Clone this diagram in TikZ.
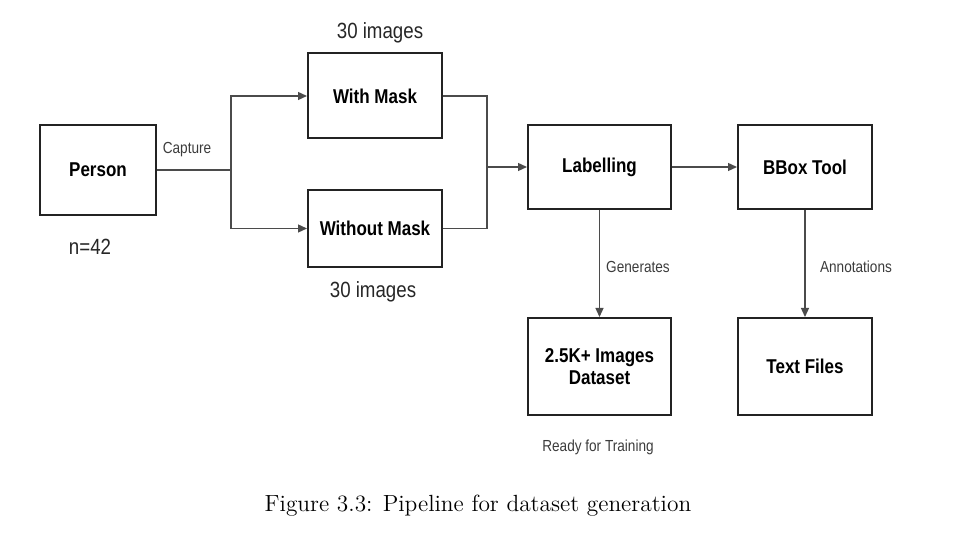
\documentclass[tikz,border=0pt]{standalone}
\usepackage{fontspec}
\newfontfamily\diag{Liberation Sans}[FakeStretch=0.85]
\usetikzlibrary{arrows.meta}
\definecolor{boxline}{RGB}{35,35,35}
\definecolor{conn}{RGB}{75,75,75}
\definecolor{lbl}{RGB}{60,60,60}
\tikzset{
  stage/.style={draw=boxline, line width=1pt, fill=white, inner sep=0pt, align=center,
    font=\diag\bfseries\fontsize{10}{11}\selectfont, text=black},
  link/.style={draw=conn, line width=0.65pt},
  arr/.style={link, -{Triangle[length=4.5pt,width=4pt]}},
  small/.style={font=\diag\fontsize{8}{9}\selectfont, text=lbl},
  note/.style={font=\diag\fontsize{11}{12}\selectfont, text=black!85}
}
\begin{document}
\begin{tikzpicture}[x=0.5pt,y=-0.5pt]
\useasboundingbox (0,0) rectangle (966,549);
\node[stage, minimum width=58pt, minimum height=45pt] (P) at (98,170) {Person};
\node[stage, minimum width=67pt, minimum height=42.5pt] (WM) at (375,96) {With Mask};
\node[stage, minimum width=67pt, minimum height=38.5pt] (WO) at (375,228.5) {Without Mask};
\node[stage, minimum width=71.5pt, minimum height=42pt] (L) at (599.5,167) {Labelling};
\node[stage, minimum width=67pt, minimum height=42pt] (B) at (805,167) {BBox Tool};
\node[stage, minimum width=71.5pt, minimum height=48.5pt] (D) at (599.5,366.5) {2.5K+ Images\\Dataset};
\node[stage, minimum width=67pt, minimum height=48.5pt] (T) at (805,366.5) {Text Files};

\coordinate (br) at (231,170);
\coordinate (mg) at (487,167);
\draw[link] (P.east) -- (br);
\draw[arr] (br) |- (WM.west);
\draw[arr] (br) |- (WO.west);
\draw[link] (WM.east) -| (mg);
\draw[link] (WO.east) -| (mg);
\draw[arr] (mg) -- (L.west);
\draw[arr] (L.east) -- (B.west);
\draw[arr] (L.south) -- (D.north);
\draw[arr] (B.south) -- (T.north);

\node[small] (cap) at (187,150) {Capture};
\node[note] (n42) at (90,247) {n=42};
\node[note] (i1) at (380,33) {30 images};
\node[note] (i2) at (373,292) {30 images};
\node[small] (gen) at (638,267) {Generates};
\node[small] (ann) at (856,267) {Annotations};
\node[small] (rdy) at (598,447) {Ready for Training};
\node[font=\fontsize{11.7}{14}\selectfont] (fig) at (478,506) {Figure 3.3: Pipeline for dataset generation};
\end{tikzpicture}
\end{document}
